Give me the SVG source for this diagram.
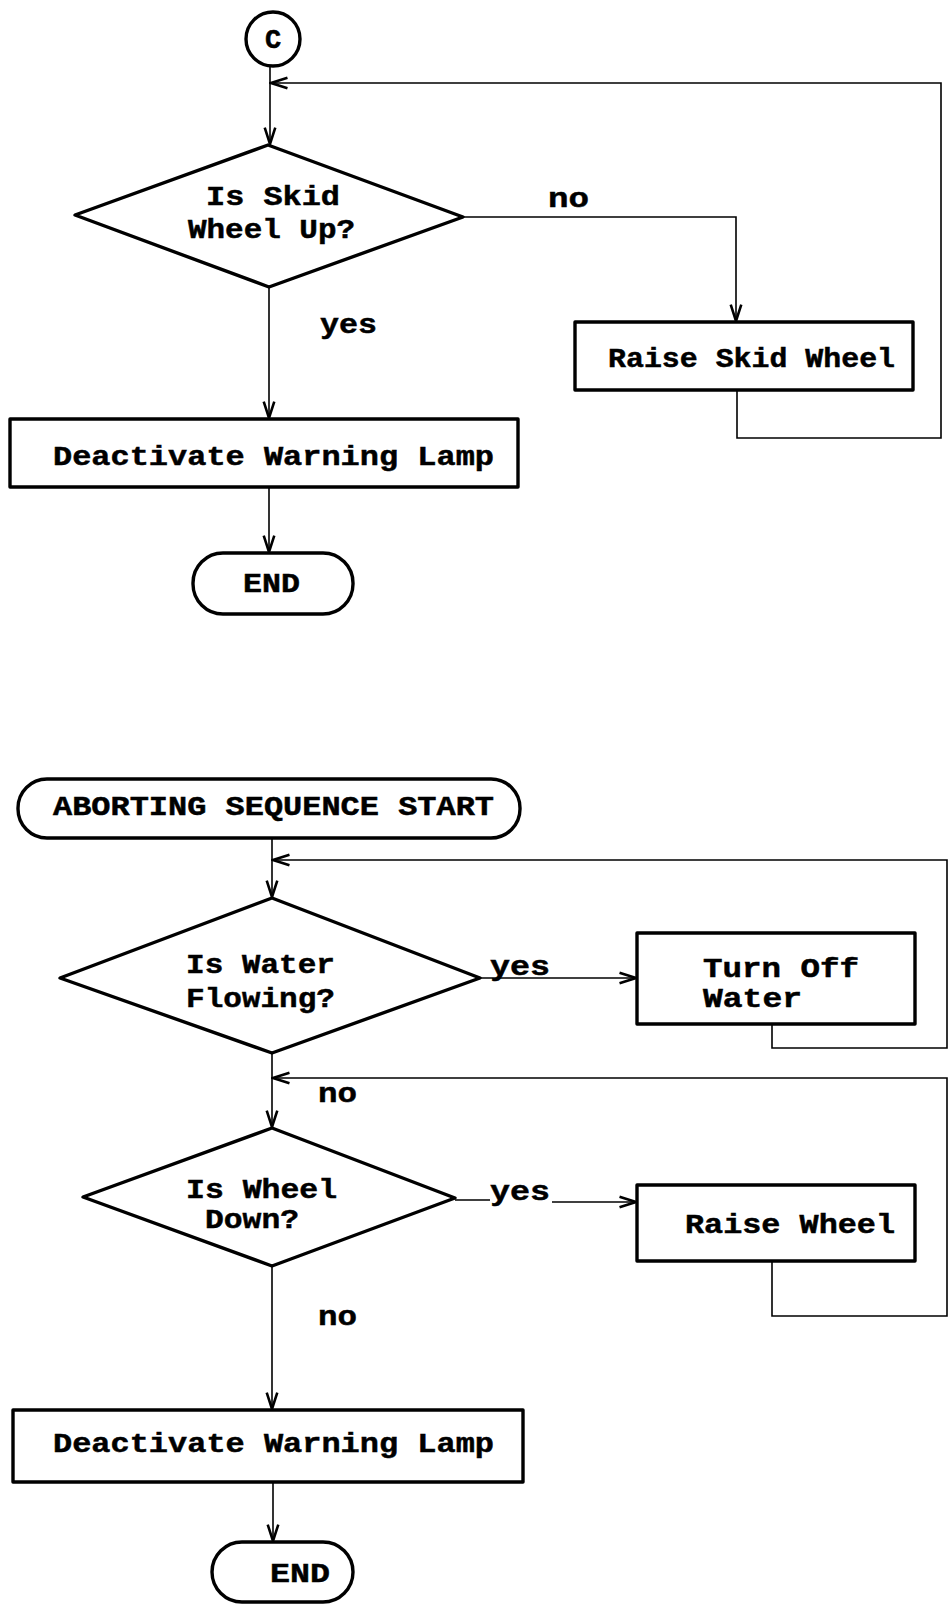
<svg xmlns="http://www.w3.org/2000/svg" width="950" height="1610" viewBox="0 0 950 1610">
  <style>
    .node { fill: #fff; stroke: #000; stroke-width: 3.4; stroke-linejoin: round; }
    .conn { fill: none; stroke: #000; stroke-width: 1.6; }
    .t { font-family: "Liberation Mono", "Courier New", monospace; font-weight: bold; font-size: 28px; fill: #000; stroke: #000; stroke-width: 0.5; }
  </style>
  <defs>
    <marker id="arr" markerUnits="userSpaceOnUse" markerWidth="20" markerHeight="20" viewBox="-15 -8 17 16" refX="0" refY="0" orient="auto">
      <path d="M-14,-4.5 L0,0 L-14,4.5" fill="none" stroke="#000" stroke-width="2.2"/>
    </marker>
  </defs>

  <!-- connectors -->
  <g id="connectors">
    <path class="conn" d="M270,67 V144" marker-end="url(#arr)"/>
    <path class="conn" d="M463,217 H736 V321" marker-end="url(#arr)"/>
    <path class="conn" d="M737,390 V438 H941 V83 H271" marker-end="url(#arr)"/>
    <path class="conn" d="M269,287 V418" marker-end="url(#arr)"/>
    <path class="conn" d="M269,487 V552" marker-end="url(#arr)"/>

    <path class="conn" d="M272,838 V897" marker-end="url(#arr)"/>
    <path class="conn" d="M480,978 H636" marker-end="url(#arr)"/>
    <path class="conn" d="M772,1024 V1048 H947 V860 H273" marker-end="url(#arr)"/>
    <path class="conn" d="M272,1053 V1127" marker-end="url(#arr)"/>
    <path class="conn" d="M455,1200 H490"/>
    <path class="conn" d="M552,1202 H636" marker-end="url(#arr)"/>
    <path class="conn" d="M772,1261 V1316 H947 V1078 H273" marker-end="url(#arr)"/>
    <path class="conn" d="M272,1266 V1409" marker-end="url(#arr)"/>
    <path class="conn" d="M273,1482 V1541" marker-end="url(#arr)"/>
  </g>

  <!-- connector labels -->
  <g id="labels">
    <text class="t" x="548" y="207" textLength="41" lengthAdjust="spacingAndGlyphs">no</text>
    <text class="t" x="320" y="333" textLength="57" lengthAdjust="spacingAndGlyphs">yes</text>
    <text class="t" x="490" y="975" textLength="60" lengthAdjust="spacingAndGlyphs">yes</text>
    <text class="t" x="318" y="1102" textLength="39" lengthAdjust="spacingAndGlyphs">no</text>
    <text class="t" x="490" y="1200" textLength="60" lengthAdjust="spacingAndGlyphs">yes</text>
    <text class="t" x="318" y="1325" textLength="39" lengthAdjust="spacingAndGlyphs">no</text>
  </g>

  <!-- upper chart -->
  <g id="connector-c">
    <circle class="node" cx="273" cy="39" r="27"/>
    <text class="t" x="273" y="48" text-anchor="middle" style="font-size:27px">C</text>
  </g>

  <g id="skid-wheel-up">
    <polygon class="node" points="268,145 463,217 269,287 75,215"/>
    <text class="t" x="206" y="205" textLength="134" lengthAdjust="spacingAndGlyphs">Is Skid</text>
    <text class="t" x="188" y="238" textLength="167" lengthAdjust="spacingAndGlyphs">Wheel Up?</text>
  </g>

  <g id="raise-skid-wheel">
    <rect class="node" x="575" y="322" width="338" height="68"/>
    <text class="t" x="608" y="367" textLength="287" lengthAdjust="spacingAndGlyphs">Raise Skid Wheel</text>
  </g>

  <g id="deactivate-lamp-1">
    <rect class="node" x="10" y="419" width="508" height="68"/>
    <text class="t" x="53" y="465" textLength="441" lengthAdjust="spacingAndGlyphs">Deactivate Warning Lamp</text>
  </g>

  <g id="end-1">
    <rect class="node" x="193" y="553" width="160" height="61" rx="30" ry="30"/>
    <text class="t" x="243" y="592" textLength="57" lengthAdjust="spacingAndGlyphs">END</text>
  </g>

  <!-- lower chart -->
  <g id="aborting-start">
    <rect class="node" x="18" y="779" width="502" height="59" rx="29" ry="29"/>
    <text class="t" x="53" y="815" textLength="441" lengthAdjust="spacingAndGlyphs">ABORTING SEQUENCE START</text>
  </g>

  <g id="water-flowing">
    <polygon class="node" points="272,898 480,978 272,1053 60,978"/>
    <text class="t" x="186" y="973" textLength="149" lengthAdjust="spacingAndGlyphs">Is Water</text>
    <text class="t" x="186" y="1007" textLength="149" lengthAdjust="spacingAndGlyphs">Flowing?</text>
  </g>

  <g id="turn-off-water">
    <rect class="node" x="637" y="933" width="278" height="91"/>
    <text class="t" x="703" y="977" textLength="156" lengthAdjust="spacingAndGlyphs">Turn Off</text>
    <text class="t" x="703" y="1007" textLength="99" lengthAdjust="spacingAndGlyphs">Water</text>
  </g>

  <g id="wheel-down">
    <polygon class="node" points="272,1128 455,1198 272,1266 83,1197"/>
    <text class="t" x="186" y="1198" textLength="151" lengthAdjust="spacingAndGlyphs">Is Wheel</text>
    <text class="t" x="205" y="1228" textLength="94" lengthAdjust="spacingAndGlyphs">Down?</text>
  </g>

  <g id="raise-wheel">
    <rect class="node" x="637" y="1185" width="278" height="76"/>
    <text class="t" x="685" y="1233" textLength="210" lengthAdjust="spacingAndGlyphs">Raise Wheel</text>
  </g>

  <g id="deactivate-lamp-2">
    <rect class="node" x="13" y="1410" width="510" height="72"/>
    <text class="t" x="53" y="1452" textLength="441" lengthAdjust="spacingAndGlyphs">Deactivate Warning Lamp</text>
  </g>

  <g id="end-2">
    <rect class="node" x="212" y="1542" width="141" height="60" rx="30" ry="30"/>
    <text class="t" x="270" y="1582" textLength="60" lengthAdjust="spacingAndGlyphs">END</text>
  </g>
</svg>
